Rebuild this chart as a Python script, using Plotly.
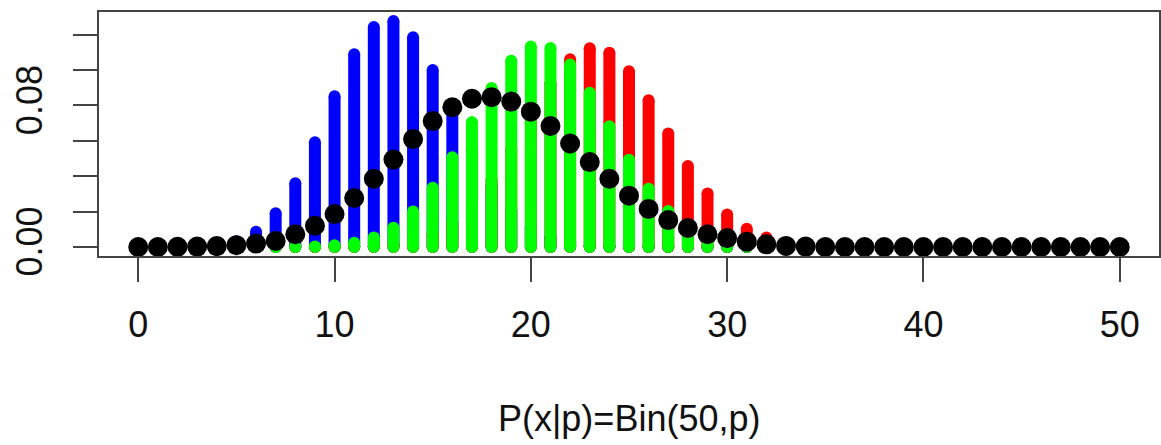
import plotly.graph_objects as go

# ---- data ----
x_vals = list(range(51))

blue_vals = [0.0000003, 0.0000051, 0.0000438, 0.000246, 0.001016, 0.003285, 0.008657, 0.01912,
             0.03610, 0.05919, 0.08527, 0.10894, 0.12440, 0.12776, 0.11863, 0.10003, 0.07688,
             0.05403, 0.03480, 0.02059, 0.01121, 0.005628, 0.002607, 0.001115, 0.000441,
             0.000161, 0.0000544, 0.000017, 0.000005] + [0.0] * 22

red_vals = [0.0] * 8 + [0.0000046, 0.0000186, 0.0000661, 0.000209, 0.000590, 0.001500, 0.003445,
            0.007187, 0.013664, 0.02375, 0.03785, 0.05541, 0.07465, 0.09269, 0.10619, 0.11236,
            0.10987, 0.09931, 0.08300, 0.06412, 0.04578, 0.03018, 0.01836, 0.010297, 0.005314,
            0.002519, 0.001095, 0.000435, 0.000158, 0.0000518, 0.0000154, 0.000004] + [0.0] * 11

green_vals = [0.0] * 5 + [0.0000012, 0.0000063, 0.0000273, 0.000102, 0.000330, 0.000941, 0.002378,
              0.005371, 0.010910, 0.02004, 0.03342, 0.05080, 0.07060, 0.08995, 0.10527, 0.11339,
              0.11257, 0.10312, 0.08724, 0.06820, 0.04929, 0.03293, 0.02034, 0.011612, 0.006122,
              0.002978, 0.001335, 0.000551, 0.000209, 0.0000725, 0.000023, 0.0000067] + [0.0] * 14

black_vals = [0.0000, 0.0000, 0.0001, 0.0002, 0.0005, 0.0010, 0.0019, 0.0034, 0.0072, 0.0120,
              0.0186, 0.0277, 0.0386, 0.0494, 0.0610, 0.0712, 0.0790, 0.0838, 0.0847, 0.0822,
              0.0765, 0.0684, 0.0585, 0.0480, 0.0386, 0.0290, 0.0215, 0.0152, 0.0107, 0.0072,
              0.0050, 0.0030, 0.0015, 0.0006, 0.0002] + [0.0] * 16

x_ticks = [0, 10, 20, 30, 40, 50]
y_ticks = [0.00, 0.02, 0.04, 0.06, 0.08, 0.10, 0.12]
y_ticktext = ["0.00", "", "", "", "0.08", "", ""]
x_title = "P(x|p)=Bin(50,p)"

FONT = "Liberation Sans, Arial, Helvetica, sans-serif"
BAR_W = 12


def spikes(xs, ys):
    sx, sy = [], []
    for a, b in zip(xs, ys):
        sx += [a, a, None]
        sy += [0, b, None]
    return sx, sy


fig = go.Figure()
for vals, col in [(blue_vals, "#0000FF"), (red_vals, "#FF0000"), (green_vals, "#00FF00")]:
    sx, sy = spikes(x_vals, vals)
    fig.add_trace(go.Scatter(x=sx, y=sy, mode="lines+markers",
                             line=dict(color=col, width=BAR_W),
                             marker=dict(color=col, size=BAR_W, line=dict(width=0)),
                             hoverinfo="skip", showlegend=False))

fig.add_trace(go.Scatter(x=x_vals, y=black_vals, mode="markers",
                         marker=dict(color="black", size=20, line=dict(width=0)),
                         showlegend=False))

ymax = max(blue_vals)
fig.update_layout(
    width=1161, height=445,
    margin=dict(l=99, r=2, t=12, b=189),
    paper_bgcolor="white", plot_bgcolor="white",
    font=dict(family=FONT, size=36, color="#111"),
    showlegend=False,
)
fig.update_xaxes(range=[-2, 52], tickvals=x_ticks, ticktext=[str(t) for t in x_ticks],
                 automargin=False,
                 showgrid=False, zeroline=False, showline=True, mirror=True,
                 linecolor="#444", linewidth=2, ticks="outside", ticklen=24,
                 tickwidth=2, tickcolor="#444", ticklabelstandoff=12,
                 tickfont=dict(family=FONT, size=36, color="#111"))
fig.update_yaxes(range=[-0.04 * ymax, 1.04 * ymax], tickvals=y_ticks, ticktext=y_ticktext,
                 tickangle=-90, automargin=False,
                 showgrid=False, zeroline=False, showline=True, mirror=True,
                 linecolor="#444", linewidth=2, ticks="outside", ticklen=24,
                 tickwidth=2, tickcolor="#444", ticklabelstandoff=17,
                 tickfont=dict(family=FONT, size=36, color="#111"))

fig.add_annotation(text=x_title, xref="paper", yref="paper", x=0.5, y=-0.664,
                   xanchor="center", yanchor="middle", showarrow=False,
                   font=dict(family=FONT, size=36, color="#111"))

fig.write_html("out.html", config={"displayModeBar": False},
               post_script="document.body.style.margin='0px';document.body.style.padding='0px';")
